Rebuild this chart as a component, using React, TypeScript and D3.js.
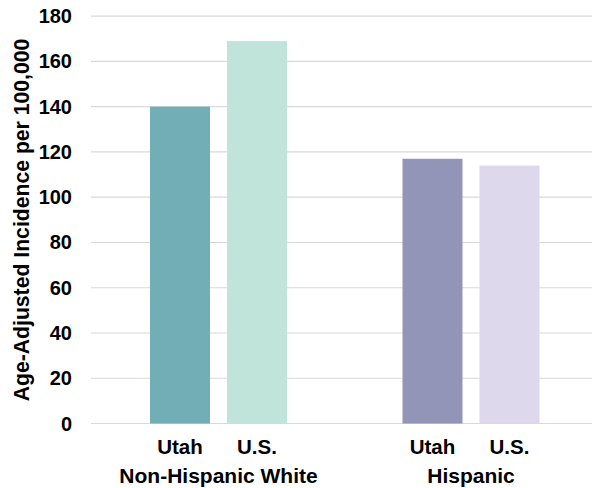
import React from "react";
import * as d3 from "d3";

const groups = ["Non-Hispanic White", "Hispanic"];
const places = ["Utah", "U.S."];
const utahValues = [140, 117];
const usValues = [169, 114];
const yTicks = [0, 20, 40, 60, 80, 100, 120, 140, 160, 180];
const barColors = [
  ["#72aeb5", "#c0e4da"],
  ["#9295b7", "#ddd8ec"],
];

const W = 595;
const H = 488;
const font = "'Liberation Sans', Arial, sans-serif";

const App: React.FC = () => {
  const y = d3.scaleLinear().domain([0, 180]).range([423.5, 16.2]);
  const x0 = d3.scaleBand<string>().domain(groups).range([92.25, 597.25]);
  const x1 = d3
    .scaleBand<string>()
    .domain(places)
    .range([-68.5, 68.5])
    .paddingInner(17 / 77);

  const rows = groups.map((g, i) => ({
    group: g,
    values: [utahValues[i], usValues[i]],
  }));

  return (
    <svg
      width={W}
      height={H}
      style={{ position: "absolute", left: 0, top: 0, background: "#fff" }}
      fontFamily={font}
    >
      {yTicks.map((t) => (
        <g key={t}>
          <line
            x1={91}
            x2={592}
            y1={y(t)}
            y2={y(t)}
            stroke="#d9d9d9"
            strokeWidth={1.2}
          />
          <text
            x={72}
            y={y(t)}
            dy="0.35em"
            textAnchor="end"
            fontSize={20}
            fontWeight="bold"
            fill="#000"
          >
            {t}
          </text>
        </g>
      ))}

      {rows.map((r, gi) => {
        const cx = x0(r.group)! + x0.bandwidth() / 2;
        return (
          <g key={r.group}>
            {places.map((p, pi) => {
              const bx = cx + x1(p)!;
              return (
                <g key={p}>
                  <rect
                    x={bx}
                    y={y(r.values[pi])}
                    width={x1.bandwidth()}
                    height={y(0) - y(r.values[pi])}
                    fill={barColors[gi][pi]}
                  />
                  <text
                    x={bx + x1.bandwidth() / 2}
                    y={454}
                    textAnchor="middle"
                    fontSize={20.5}
                    fontWeight="bold"
                  >
                    {p}
                  </text>
                </g>
              );
            })}
            <text
              x={cx}
              y={483}
              textAnchor="middle"
              fontSize={21}
              fontWeight="bold"
            >
              {r.group}
            </text>
          </g>
        );
      })}

      <text
        transform="translate(29.3,220) rotate(-90)"
        textAnchor="middle"
        fontSize={21.2}
        fontWeight="bold"
      >
        Age-Adjusted Incidence per 100,000
      </text>
    </svg>
  );
};

export default App;
